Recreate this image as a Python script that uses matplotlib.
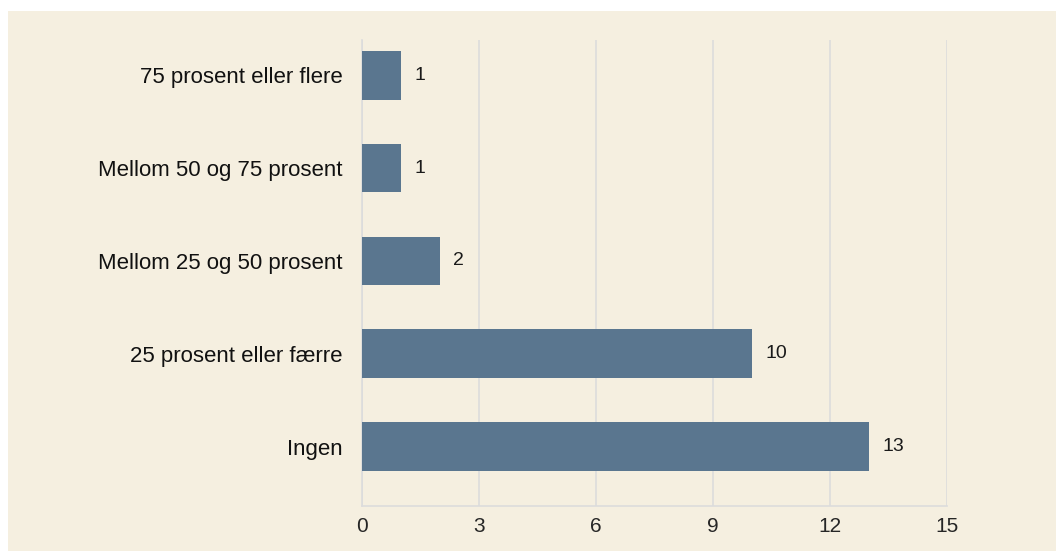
import matplotlib
matplotlib.use("Agg")
import matplotlib.pyplot as plt
from matplotlib.patches import Rectangle

categories = ["Ingen", "25 prosent eller færre", "Mellom 25 og 50 prosent",
              "Mellom 50 og 75 prosent", "75 prosent eller flere"]
values = [13, 10, 2, 1, 1]
xticks = [0, 3, 6, 9, 12, 15]

plt.rcParams['font.family'] = ['Liberation Sans', 'DejaVu Sans']

W, H = 1056, 551
fig = plt.figure(figsize=(W / 100, H / 100), dpi=100, facecolor="white")
cream = "#F5EFE0"
fig.patches.append(Rectangle((8 / W, 0), 1 - 8 / W, (H - 11) / H,
                             transform=fig.transFigure, facecolor=cream,
                             edgecolor="none", zorder=-10))

ax = fig.add_axes([362 / W, (H - 506) / H, (947 - 362) / W, (506 - 40) / H])
ax.set_facecolor(cream)
ax.patch.set_alpha(0)

ypos = list(range(len(categories)))
ax.barh(ypos, values, height=0.525, color="#5A768F", zorder=3)
for y, v in zip(ypos, values):
    ax.text(v + 0.34, y, str(v), va="center", ha="left", fontsize=14, color="#1a1a1a")

ax.set_xlim(0, 15)
ax.set_ylim(-0.64, 4.38)
ax.set_xticks(xticks)
ax.set_xticklabels([str(t) for t in xticks], fontsize=15, color="#262626")
ax.set_yticks(ypos)
ax.set_yticklabels(categories, fontsize=16, color="#111111")
ax.tick_params(axis="both", length=0)
ax.tick_params(axis="y", pad=14)
ax.tick_params(axis="x", pad=8)
ax.grid(axis="x", color="#DCDCDC", linewidth=1.2, zorder=1)
for s in ["top", "right"]:
    ax.spines[s].set_visible(False)
ax.spines["left"].set_color("#DCDCDC")
ax.spines["left"].set_linewidth(1.2)
ax.spines["bottom"].set_color("#DCDCDC")
ax.spines["bottom"].set_linewidth(1.2)

fig.savefig("out.png", dpi=100, facecolor="white")
